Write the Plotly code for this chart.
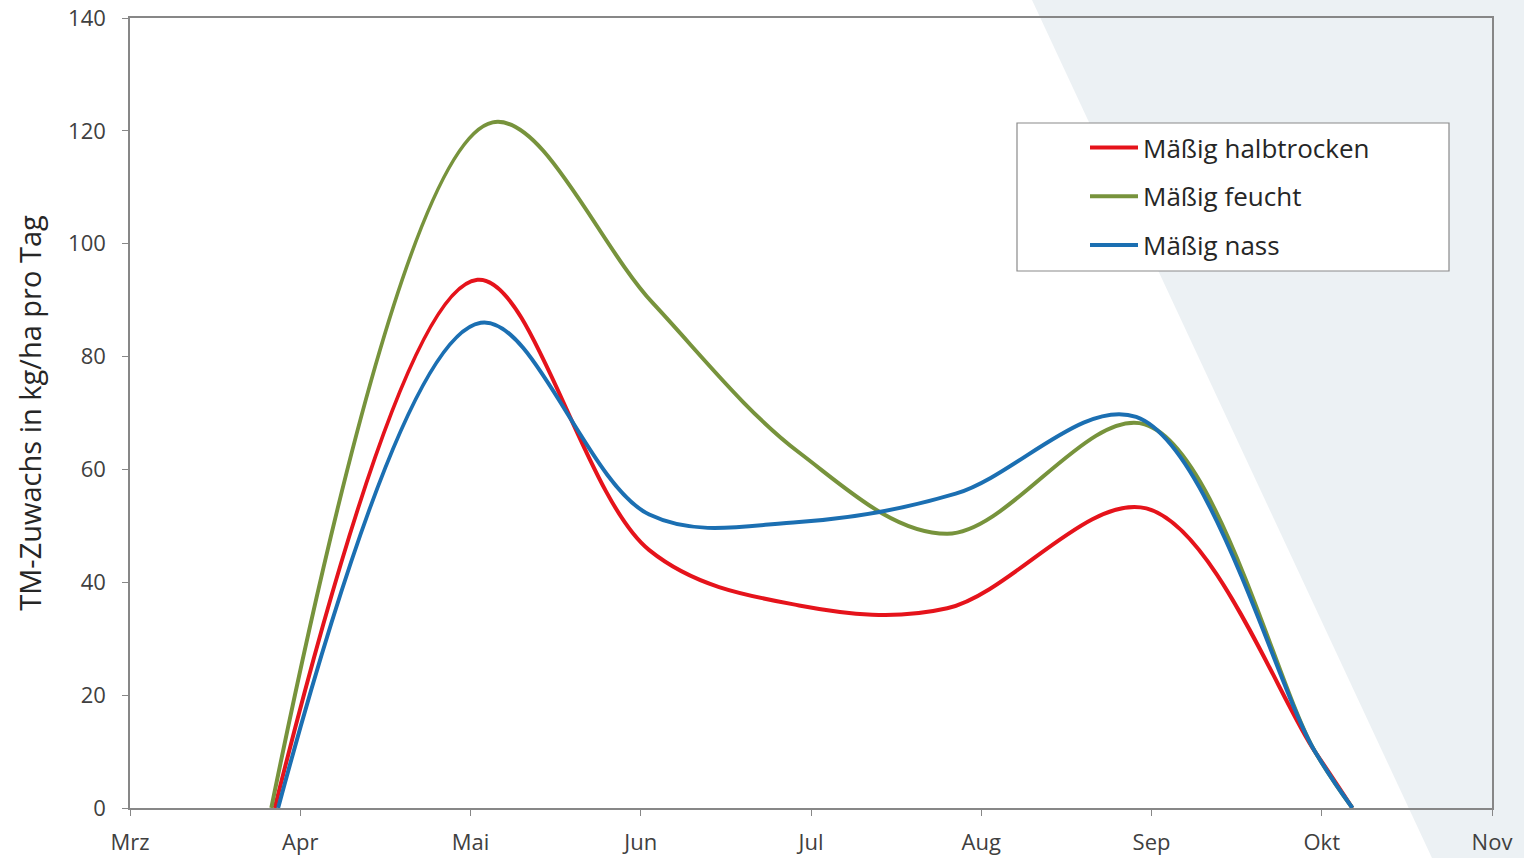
import plotly.graph_objects as go

# Month axis: 0 = Mrz ... 8 = Nov
month_labels = ["Mrz", "Apr", "Mai", "Jun", "Jul", "Aug", "Sep", "Okt", "Nov"]
month_pos = [0, 1, 2, 3, 4, 5, 6, 7, 8]

x_halbtrocken = [0.85, 2.04, 3.05, 3.93, 4.8, 5.97, 6.96, 7.18]
halbtrocken = [0, 93.6, 45.7, 35.9, 35.4, 53.1, 10, 0]
x_feucht = [0.83, 2.13, 3.07, 3.93, 4.8, 5.96, 6.96, 7.18]
feucht = [0, 121.5, 89.5, 63, 48.6, 68, 10, 0]
x_nass = [0.87, 2.06, 3.05, 3.93, 4.85, 5.91, 6.96, 7.18]
nass = [0, 86, 52, 50.7, 55.7, 69.3, 10, 0]

series = [
    ("Mäßig halbtrocken", x_halbtrocken, halbtrocken, "#e5131b"),
    ("Mäßig feucht", x_feucht, feucht, "#77933c"),
    ("Mäßig nass", x_nass, nass, "#1b6fb2"),
]

fig = go.Figure()
for name, xs, vals, col in series:
    fig.add_trace(go.Scatter(
        x=xs, y=vals, name=name, mode="lines", legendgroup=name,
        line=dict(color=col, width=4, shape="spline", smoothing=1.0),
    ))

axis_col = "#878787"
font_fam = "Open Sans, Lato, sans-serif"

# plot area in screen px: x 130..1492, y 18..808
def px(x):
    return (x - 130) / 1362

def py(y):
    return (808 - y) / 790

fig.update_layout(
    width=1524, height=858,
    margin=dict(l=130, r=32, t=18, b=50),
    paper_bgcolor="white",
    plot_bgcolor="rgba(0,0,0,0)",
    font=dict(family=font_fam, color="#404040", size=19),
    showlegend=True,
    legend=dict(
        x=px(1085), y=py(124),
        xanchor="left", yanchor="top",
        bgcolor="rgba(0,0,0,0)", borderwidth=0,
        font=dict(size=26, color="#262626", family=font_fam),
        tracegroupgap=12, itemwidth=48,
    ),
    shapes=[
        dict(
            type="path", xref="paper", yref="paper", layer="below",
            path=f"M {px(1032)} {py(0)} L {px(1524)} {py(0)} L {px(1524)} {py(858)} L {px(1432)} {py(858)} Z",
            fillcolor="#ecf1f4", line=dict(width=0),
        ),
        dict(
            type="rect", xref="paper", yref="paper", layer="below",
            x0=px(1017), x1=px(1449), y0=py(271), y1=py(123),
            fillcolor="white", line=dict(color="#8a8a8a", width=1.2),
        ),
    ],
)

fig.update_xaxes(
    range=[0, 8], tickvals=month_pos, ticktext=month_labels,
    showgrid=False, zeroline=False, automargin=False,
    showline=True, linecolor=axis_col, linewidth=1.5, mirror=True,
    ticks="outside", ticklen=6, tickcolor=axis_col,
    tickfont=dict(size=22, color="#404040"),
    ticklabelstandoff=8, ticklabeloverflow="allow",
)
fig.update_yaxes(
    range=[0, 140], tickvals=list(range(0, 141, 20)),
    showgrid=False, zeroline=False, automargin=False,
    showline=True, linecolor=axis_col, linewidth=1.5, mirror=True,
    ticks="outside", ticklen=6, tickcolor=axis_col,
    tickfont=dict(size=22, color="#404040"),
    ticklabelstandoff=12, ticklabeloverflow="allow",
    title=dict(text="TM-Zuwachs in kg/ha pro Tag", font=dict(size=29, color="#262626"), standoff=18),
)

fig.write_html(
    "out.html",
    config={"displayModeBar": False},
    post_script="document.body.style.margin='0';document.body.style.overflow='hidden';",
)
